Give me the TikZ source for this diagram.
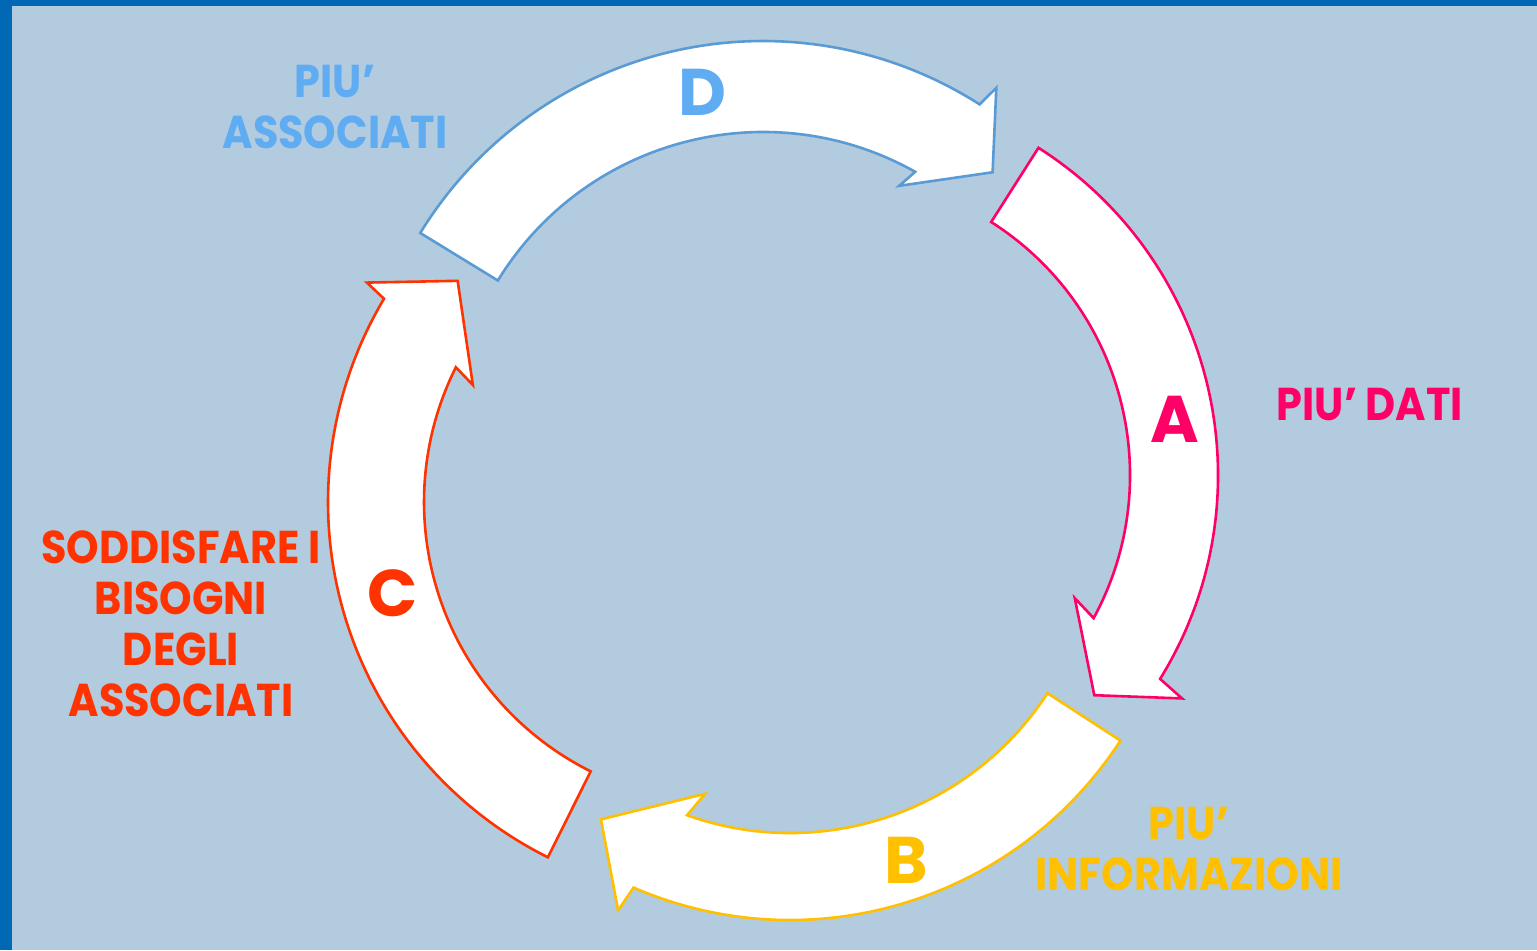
\documentclass[tikz,border=0pt]{standalone}
\usepackage{fontspec}
\setmainfont{Poppins}
\newfontfamily\labelfont{Poppins}[FakeStretch=0.9]
\definecolor{borderblue}{RGB}{0,104,181}
\definecolor{bgblue}{RGB}{179,203,222}
\definecolor{pinkA}{RGB}{255,0,102}
\definecolor{yellowB}{RGB}{255,192,0}
\definecolor{redC}{RGB}{255,51,0}
\definecolor{blueD}{RGB}{91,155,213}
\definecolor{blueTxt}{RGB}{96,172,242}
\begin{document}
\begin{tikzpicture}[x=0.5pt,y=-0.5pt,
  arrowshape/.style={fill=white, line width=1.3pt, line join=miter},
  lbl/.style={font=\labelfont\bfseries\fontsize{23}{25.5}\selectfont, align=center, inner sep=0pt},
  big/.style={font=\bfseries\fontsize{33}{33}\selectfont, inner sep=0pt}]
\useasboundingbox (0,0) rectangle (1537,950);
\fill[borderblue] (0,0) rectangle (1537,950);
\fill[bgblue] (12,6) rectangle (1537,950);

% Arrow A (pink)
\draw[arrowshape, draw=pinkA, shift={(830,475)}]
  (-57.5:388) arc[start angle=-57.5, end angle=31.7, radius=388]
  -- (32.4:417) -- (39.8:344) -- (26.7:274) -- (28.5:300)
  arc[start angle=28.5, end angle=-57.5, radius=300] -- cycle;

% Arrow B (yellow)
\draw[arrowshape, draw=yellowB, shift={(790,526)}]
  (33:394) arc[start angle=33, end angle=113.4, radius=394]
  -- (114.1:421) -- (122.8:349) -- (107.6:281) -- (109.6:307)
  arc[start angle=109.6, end angle=33, radius=307] -- cycle;

% Arrow C (red)
\draw[arrowshape, draw=redC, shift={(725,502)}]
  (116.5:397) arc[start angle=116.5, end angle=210.8, radius=397]
  -- (211.5:420) -- (219.6:347) -- (204.9:278) -- (206.6:301)
  arc[start angle=206.6, end angle=116.5, radius=301] -- cycle;

% Arrow D (blue)
\draw[arrowshape, draw=blueD, shift={(763,443)}]
  (211.5:402) arc[start angle=211.5, end angle=302.6, radius=402]
  -- (303.3:425) -- (310.3:355) -- (297.9:291) -- (299.3:311)
  arc[start angle=299.3, end angle=211.5, radius=311] -- cycle;

% Letters
\node[big, text=blueTxt] (tD) at (702,92) {D};
\node[big, text=pinkA] (tA) at (1175,419) {A};
\node[big, text=yellowB] (tB) at (906,860) {B};
\node[big, text=redC] (tC) at (393,593) {C};

% Labels
\node[lbl, text=blueTxt] (lD) at (335,107) {PIU’\\ASSOCIATI};
\node[lbl, text=pinkA] (lA) at (1370,404) {PIU’ DATI};
\node[lbl, text=yellowB] (lB) at (1189,849) {PIU’\\INFORMAZIONI};
\node[lbl, text=redC] (lC) at (181,624) {SODDISFARE I\\BISOGNI\\DEGLI\\ASSOCIATI};
\end{tikzpicture}
\end{document}
